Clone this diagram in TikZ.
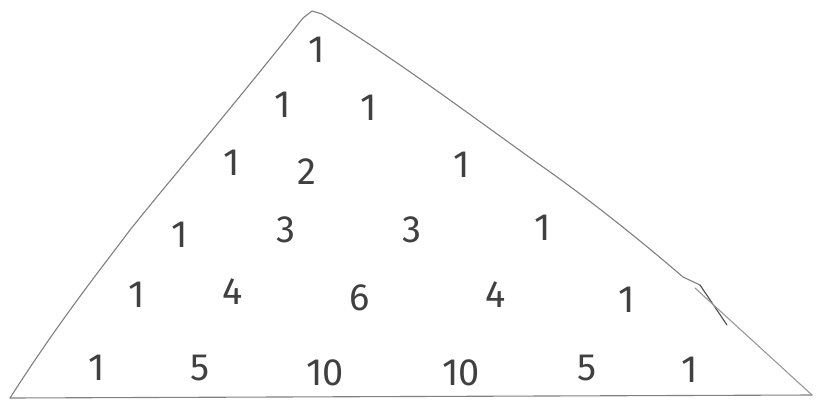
\documentclass[tikz,border=0pt]{standalone}
\usepackage{fontspec}
\setmainfont{Fira Sans}
\begin{document}
\begin{tikzpicture}[x=1pt,y=-1pt,
  num/.style={text=black!75, font=\fontsize{38}{38}\selectfont, inner sep=0pt, anchor=center},
  edge/.style={draw=black!50, line width=1.1pt, line cap=round, line join=round}]
\useasboundingbox[fill=white] (0,0) rectangle (816,402);
% triangle
\coordinate (L) at (10,398);
\coordinate (A) at (312,11);
\coordinate (R) at (812,395);
\coordinate (B) at (700,285);
\coordinate (s2) at (727,325);
\coordinate (t1) at (695,288);
\draw[edge] (L) .. controls (60,320) and (100,270) .. (130,230)
  .. controls (170,180) and (230,110) .. (303,18) -- (A) -- (322,14)
  .. controls (400,62) and (470,115) .. (543,167)
  .. controls (590,200) and (640,240) .. (683,277) -- (B);
\draw[edge, draw=black!70] (B) -- (s2);
\draw[edge, draw=black!40] (t1) -- (R);
\draw[edge] (L) -- (R);
% numbers
\node[num] (r1a) at (317,50) {1};
\node[num] (r2a) at (283,105) {1};
\node[num] (r2b) at (369,108) {1};
\node[num] (r3a) at (232,163) {1};
\node[num] (r3b) at (307,172) {2};
\node[num] (r3c) at (462,165) {1};
\node[num] (r4a) at (180,235) {1};
\node[num] (r4b) at (286,230) {3};
\node[num] (r4c) at (412,230) {3};
\node[num] (r4d) at (543,228) {1};
\node[num] (r5a) at (137,295) {1};
\node[num] (r5b) at (233,292) {4};
\node[num] (r5c) at (360,298) {6};
\node[num] (r5d) at (496,295) {4};
\node[num] (r5e) at (627,300) {1};
\node[num] (r6a) at (97,368) {1};
\node[num] (r6b) at (200,368) {5};
\node[num] (r6c) at (325,373) {10};
\node[num] (r6d) at (461,373) {10};
\node[num] (r6e) at (587,368) {5};
\node[num] (r6f) at (690,370) {1};
\end{tikzpicture}
\end{document}
